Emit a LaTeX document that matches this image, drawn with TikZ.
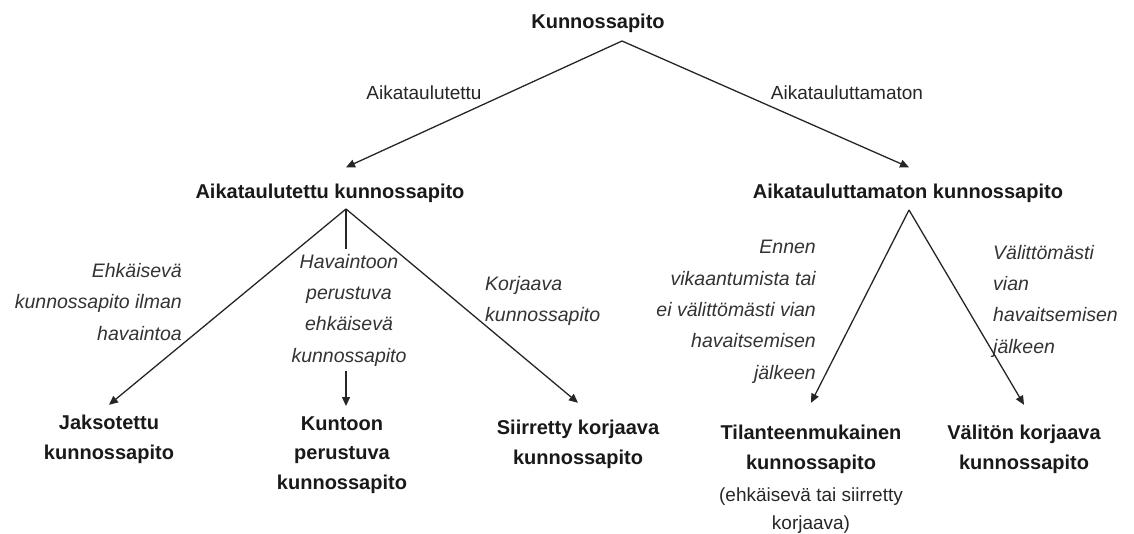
\documentclass[tikz,border=0pt]{standalone}
\usepackage{fontspec}
\setmainfont{Liberation Sans}
\usetikzlibrary{arrows.meta}

\tikzset{
  kp/.style={font=\bfseries\fontsize{20}{29.5}\selectfont, align=center, text=black!90, inner xsep=2pt, inner ysep=10pt, anchor=base},
  sel/.style={font=\itshape\fontsize{19.5}{31.3}\selectfont, text=black!80, inner sep=0pt},
  haara/.style={font=\fontsize{19}{28}\selectfont, text=black!85, inner sep=0pt, anchor=base, align=center},
  viiva/.style={line width=1.3pt, black!85},
  nuoli/.style={viiva, -{Triangle[length=9pt,width=8pt]}},
}

\begin{document}
\begin{tikzpicture}[x=1pt,y=-1pt]
\useasboundingbox (0,0) rectangle (1134,534);
% otsikot (base = viimeisen rivin perusviiva)
\node[kp] (kunn) at (598,29) {Kunnossapito};
\node[kp, inner ysep=17pt] (akt) at (330,199) {Aikataulutettu kunnossapito};
\node[kp, inner ysep=17pt] (akm) at (908,199) {Aikatauluttamaton kunnossapito};
\node[haara] (l1) at (424,100) {Aikataulutettu};
\node[haara] (l2) at (847,100) {Aikatauluttamaton};
% lehdet
\node[kp] (jak) at (109,459) {Jaksotettu\\kunnossapito};
\node[kp] (kun) at (342,489) {Kuntoon\\perustuva\\kunnossapito};
\node[kp] (sii) at (578,464) {Siirretty korjaava\\kunnossapito};
\node[kp] (til) at (811,469) {Tilanteenmukainen\\kunnossapito};
\node[haara] (tilx) at (811,529) {(ehkäisevä tai siirretty\\korjaava)};
\node[kp] (val) at (1024,469) {Välitön korjaava\\kunnossapito};
% selitteet
\node[sel, anchor=base east, align=right] (s1) at (182,340) {Ehkäisevä\\kunnossapito ilman\\havaintoa};
\node[sel, anchor=base, align=center, inner ysep=5pt] (hav) at (349,362) {Havaintoon\\perustuva\\ehkäisevä\\kunnossapito};
\node[sel, anchor=base west, align=left] (s3) at (485,322) {Korjaava\\kunnossapito};
\node[sel, anchor=base east, align=right] (s4) at (816,379) {Ennen\\vikaantumista tai\\ei välittömästi vian\\havaitsemisen\\jälkeen};
\node[sel, anchor=base west, align=left] (s5) at (993,353) {Välittömästi\\vian\\havaitsemisen\\jälkeen};
% haarautumiskohdat
\coordinate (ap0) at (622,41);
\coordinate (ap1) at (346,209);
\coordinate (ap2) at (909,210);
% nuolet
\draw[nuoli] (ap0) -- (ap1 |- akt.north);
\draw[nuoli] (ap0) -- (ap2 |- akm.north);
\draw[nuoli] (ap1) -- (jak.north);
\draw[viiva] (ap1) -- (ap1 |- hav.north);
\draw[nuoli] (ap1 |- hav.south) -- (ap1 |- kun.north);
\draw[nuoli] (ap1) -- ([yshift=7pt]sii.north);
\draw[nuoli] (ap2) -- ([yshift=12pt]til.north);
\draw[nuoli] (ap2) -- ([yshift=10pt]val.north);
\end{tikzpicture}
\end{document}
